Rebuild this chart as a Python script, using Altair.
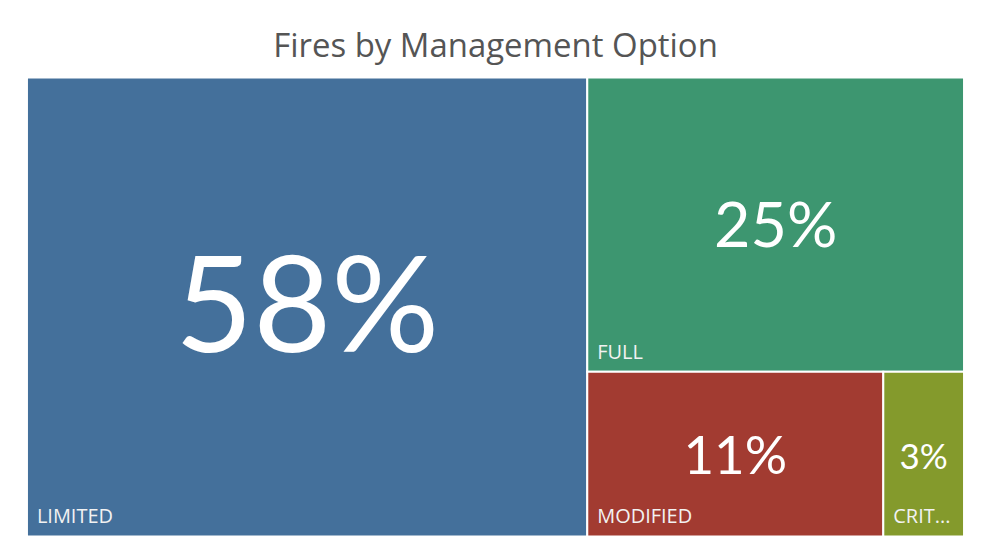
import altair as alt
import pandas as pd

# ---- data ----
categories = ["LIMITED", "FULL", "MODIFIED", "CRITICAL"]
percents = [58, 25, 11, 3]
colors = ["#44709b", "#3d9670", "#a23b31", "#849a2c"]

W, H = 939, 460  # plot area size (layout units == pixels)


def worst(row, side):
    s = sum(row)
    return max(max(side * side * r / (s * s), (s * s) / (side * side * r)) for r in row)


def squarify(values, x, y, w, h):
    """Squarified treemap layout; values already scaled to area."""
    rects = []
    vals = list(values)
    while vals:
        side = min(w, h)
        row = [vals[0]]
        i = 1
        while i < len(vals) and worst(row + [vals[i]], side) <= worst(row, side):
            row.append(vals[i])
            i += 1
        s = sum(row)
        if w >= h:  # lay row vertically along the left
            rw = s / h
            cy = y
            for r in row:
                rh = r / rw
                rects.append((x, cy, x + rw, cy + rh))
                cy += rh
            x += rw
            w -= rw
        else:  # lay row horizontally along the top
            rh = s / w
            cx = x
            for r in row:
                rw = r / rh
                rects.append((cx, y, cx + rw, y + rh))
                cx += rw
            y += rh
            h -= rh
        vals = vals[i:]
    return rects


total = sum(percents)
areas = [p / total * W * H for p in percents]
rects = squarify(areas, 0, 0, W, H)

df = pd.DataFrame({
    "cat": categories,
    "pct": percents,
    "x0": [r[0] for r in rects],
    "y0": [r[1] for r in rects],
    "x1": [r[2] for r in rects],
    "y1": [r[3] for r in rects],
})
df["cx"] = (df.x0 + df.x1) / 2
df["cy"] = (df.y0 + df.y1) / 2
df["w"] = df.x1 - df.x0
df["label"] = df["pct"].astype(str) + "%"

xs = alt.Scale(domain=[0, W], nice=False, zero=False)
ys = alt.Scale(domain=[0, H], nice=False, zero=False, reverse=True)
noaxis = None

base = alt.Chart(df)

tiles = base.mark_rect(stroke="white", strokeWidth=2).encode(
    x=alt.X("x0:Q", scale=xs, axis=noaxis),
    x2="x1:Q",
    y=alt.Y("y0:Q", scale=ys, axis=noaxis),
    y2="y1:Q",
    color=alt.Color("cat:N", scale=alt.Scale(domain=categories, range=colors), legend=None),
)

size_scale = alt.Scale(domain=[3, 11, 25, 58], range=[35, 53, 63, 135])

pct_text = base.mark_text(
    font="Lato", color="white", baseline="middle", align="center", dy=4
).encode(
    x=alt.X("cx:Q", scale=xs, axis=noaxis),
    y=alt.Y("cy:Q", scale=ys, axis=noaxis),
    text="label:N",
    size=alt.Size("pct:Q", scale=size_scale, legend=None),
)

cat_text = base.transform_calculate(
    short="datum.w < 120 ? slice(datum.cat, 0, 4) + '...' : datum.cat"
).mark_text(
    font="Open Sans", fontSize=20, color="#f2f2f2", align="left", baseline="alphabetic",
    dx=10, dy=-13,
).encode(
    x=alt.X("x0:Q", scale=xs, axis=noaxis),
    y=alt.Y("y1:Q", scale=ys, axis=noaxis),
    text="short:N",
)

chart = alt.layer(tiles, pct_text, cat_text).properties(
    width=W,
    height=H,
    title=alt.Title(
        "Fires by Management Option",
        font="Open Sans",
        fontSize=33,
        fontWeight="normal",
        color="#555555",
        anchor="middle",
        offset=12,
    ),
    padding={"left": 18, "top": 23, "right": 16, "bottom": 0},
    background="white",
).configure_view(stroke=None)

chart.save("out.html", embed_options={"renderer": "svg", "actions": False})
